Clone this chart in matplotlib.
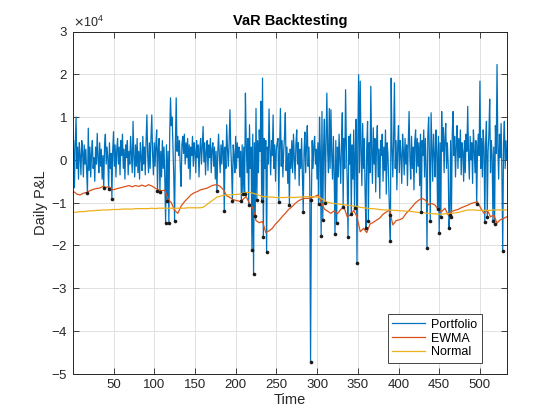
import numpy as np
import matplotlib
matplotlib.use("Agg")
import matplotlib.pyplot as plt
from matplotlib.ticker import ScalarFormatter

plt.rcParams['font.family'] = ['Liberation Sans', 'DejaVu Sans']
plt.rcParams['axes.unicode_minus'] = False

# daily portfolio P&L, in units of 1e4 (days 1..533)
pnl = [
    0.45, -0.65, 0.35, 1.00, -0.20, 0.30, -0.45, 0.40, 0.10, -0.35, 0.45, 0.20, -0.40, 0.35, -0.10, 0.25, -0.30, -0.78, 0.74, -0.25,
    0.30, -0.40, 0.15, 0.45, -0.20, 0.05, -0.50, 0.30, -0.10, 0.62, 0.05, -0.30, 0.40, -0.15, 0.25, -0.45, 0.10, -0.66, 0.35, 0.60,
    -0.10, 0.30, 0.05, -0.69, 0.40, -0.20, 0.15, -0.92, 0.20, 0.66, -0.15, 0.35, -0.40, 0.25, 0.50, -0.10, 0.30, -0.35, 0.45, 0.10,
    0.60, -0.20, 0.25, -0.45, 0.35, 0.05, 0.45, -0.35, 0.20, -0.10, 0.55, 0.15, -0.30, 0.90, 0.10, -0.40, 0.35, -0.15, 0.50, -0.30,
    0.20, -0.45, 0.40, 0.05, -0.25, 0.55, -0.10, 0.30, -0.35, 0.45, 1.05, 0.10, -0.30, 0.40, -0.20, 0.50, 1.05, 0.15, -0.35, 0.40,
    -0.15, 0.35, 0.70, -0.72, 0.30, 0.50, -0.74, 0.20, -0.40, 0.45, -0.20, 0.30, -0.45, -1.48, 0.35, -0.96, 0.20, -1.48, 0.60, 1.45,
    0.80, 1.00, 0.30, -0.40, -1.42, 0.40, 1.45, 0.20, 0.55, 0.10, 0.45, -0.20, -0.62, 0.35, 0.55, 0.15, 0.60, -0.10, 0.40, 0.05,
    0.50, -0.20, 0.35, -0.45, 0.30, 0.10, 0.55, -0.15, 0.40, 0.20, -0.30, 0.45, 0.05, 0.35, -0.40, 0.25, 0.50, -0.10, 0.30, 0.78,
    -0.05, 0.40, -0.35, 0.20, 0.45, -0.25, 0.35, 0.05, 0.50, -0.30, 0.25, 0.40, -0.15, 0.30, -0.45, 0.20, -0.73, 0.15, 0.60, 0.10,
    -0.30, 0.35, -0.10, 0.45, 0.20, -1.20, 0.30, -0.20, 0.82, 0.25, -0.15, 0.40, 1.17, 0.30, -0.20, -0.96, 0.35, 0.10, -0.30, 0.55,
    -0.20, 0.40, 0.05, 0.30, -0.40, 0.20, -0.96, 0.35, -0.80, 0.30, -0.80, 1.56, 0.40, -0.30, 0.50, -1.05, 0.82, -0.20, 0.30, -2.10,
    0.60, -2.67, 0.40, -1.31, 1.20, -0.94, 0.45, -0.30, 0.70, 0.20, 1.37, -0.95, 1.91, -1.81, 0.50, -0.20, 0.45, -2.16, 0.30, -0.10,
    1.19, 0.20, -0.35, 0.45, 0.10, 1.05, -0.20, 0.35, -0.50, 0.25, 0.40, 0.50, -0.99, 0.30, 1.20, -0.15, 0.45, -0.40, 0.20, 0.55,
    1.10, -0.25, 0.30, -0.55, 0.15, -1.05, 0.25, -0.20, 0.45, -0.30, 0.60, 0.05, -0.45, 0.35, 0.70, -0.10, 0.40, -0.60, 0.25, -0.20,
    0.50, -0.40, -1.23, 0.20, 0.65, -0.30, 0.35, 0.80, -0.15, 0.30, -0.50, -4.72, -0.94, 0.45, -0.20, 0.35, 0.55, -0.10, 0.25, -0.45,
    0.40, -1.03, 1.00, 0.20, -1.77, 1.13, -1.40, 0.30, 0.95, -1.00, 0.40, 1.56, 0.20, -0.30, 1.20, -0.20, 1.17, 0.10, -0.45, 0.55,
    -0.30, -1.73, 0.45, -1.48, 0.30, -0.40, 0.60, 0.05, -0.55, 0.40, 1.10, -1.09, 0.50, -0.20, 1.64, 0.30, -0.50, -1.81, 0.55, -0.10,
    0.60, -1.27, 0.35, -0.45, 0.70, -1.13, 0.25, 0.95, -2.42, 0.40, 1.99, -0.30, 1.84, 0.20, -0.60, 0.85, -0.20, 0.50, -0.80, -1.60,
    0.30, 0.90, -1.44, 0.40, -0.30, 1.72, 0.20, -0.55, 0.75, -0.10, 0.50, -0.75, 0.35, 0.80, -0.40, 0.25, -0.90, 0.45, 0.10, 0.60,
    -0.50, 0.30, -0.25, 0.70, -0.80, 0.40, 0.15, -0.60, -1.29, -1.90, 1.91, 0.30, -0.40, 0.50, 1.80, -0.20, 0.45, -0.70, 0.30, 0.80,
    -0.30, 0.45, 0.10, -0.55, 0.60, 0.20, -0.35, 0.50, -0.10, 0.35, -0.60, 0.40, 1.13, 0.05, -0.45, 0.55, -0.20, 0.30, -0.70, 0.45,
    0.70, -0.30, 0.50, -0.15, 0.40, -0.60, 0.60, -1.21, 0.45, 0.10, 0.70, -0.40, 0.50, -0.20, -2.07, 0.55, 1.00, 0.10, -1.42, 1.10,
    0.30, -0.50, 0.60, 0.15, -0.40, 0.70, 0.20, -1.15, 0.55, -1.72, 0.40, -1.34, 1.13, 0.20, 0.75, -0.30, 0.50, 0.85, -0.20, 0.40,
    -0.10, -1.60, -1.28, 0.45, -1.34, 0.60, 1.13, 0.10, 0.55, -0.40, 0.35, 0.80, -0.20, 0.50, 0.05, 0.70, -0.35, 0.40, 0.20, -0.50,
    0.45, -0.30, 0.60, 0.20, 1.25, 0.10, -0.45, 0.55, 0.00, 0.40, -0.55, 0.70, 0.25, -0.30, 0.45, -1.02, 0.20, 0.60, 0.10, 1.84,
    -0.20, 0.50, -0.40, 0.70, 0.30, -1.46, 0.40, 0.90, -1.34, 0.20, 0.60, 1.42, -0.30, 0.45, 0.10, -1.42, 0.30, -1.50, 0.80, 0.15,
    2.23, 0.30, -0.45, 0.60, 0.05, 0.85, -0.30, -2.13, 0.40, 0.90, -0.20, 0.45, 0.00,
]
days = np.arange(1, len(pnl) + 1)

# VaR estimates (negative, units of 1e4), sampled every 4 days
var_days = np.arange(1, 534, 4)
ewma_var = [
    -0.74, -0.80, -0.82, -0.78, -0.76, -0.72, -0.69, -0.67, -0.66, -0.62,
    -0.64, -0.63, -0.70, -0.68, -0.66, -0.64, -0.62, -0.60, -0.63, -0.60,
    -0.62, -0.59, -0.62, -0.58, -0.61, -0.66, -0.70, -0.72, -0.71, -0.92,
    -1.00, -1.18, -1.25, -1.08, -0.98, -0.90, -0.82, -0.77, -0.74, -0.70,
    -0.68, -0.66, -0.62, -0.59, -0.58, -0.62, -0.70, -0.84, -0.88, -0.93,
    -0.95, -0.97, -0.92, -0.86, -1.02, -1.12, -1.42, -1.47, -1.44, -1.70,
    -1.66, -1.60, -1.50, -1.42, -1.33, -1.25, -1.16, -1.10, -1.02, -0.96,
    -0.92, -0.90, -0.90, -0.88, -0.86, -0.82, -0.98, -1.15, -1.20, -1.25,
    -1.19, -1.26, -1.16, -1.10, -1.33, -1.29, -1.18, -1.33, -1.68, -1.60,
    -1.70, -1.50, -1.46, -1.41, -1.36, -1.27, -1.22, -1.17, -1.52, -1.42,
    -1.40, -1.37, -1.26, -1.18, -1.09, -1.00, -0.94, -0.90, -0.94, -1.05,
    -1.02, -1.06, -1.17, -1.21, -1.13, -1.29, -1.21, -1.18, -1.16, -1.12,
    -1.09, -1.06, -1.02, -1.00, -0.98, -1.13, -1.25, -1.17, -1.33, -1.29,
    -1.48, -1.40, -1.37, -1.33,
]
normal_var = [
    -1.23, -1.22, -1.21, -1.21, -1.20, -1.19, -1.19, -1.18, -1.18, -1.17,
    -1.17, -1.17, -1.16, -1.16, -1.16, -1.15, -1.15, -1.15, -1.15, -1.14,
    -1.14, -1.14, -1.14, -1.14, -1.13, -1.14, -1.13, -1.13, -1.13, -1.13,
    -1.13, -1.13, -1.13, -1.13, -1.13, -1.12, -1.12, -1.12, -1.12, -1.12,
    -1.10, -1.04, -0.98, -0.93, -0.87, -0.85, -0.83, -0.82, -0.82, -0.81,
    -0.81, -0.80, -0.78, -0.76, -0.76, -0.78, -0.80, -0.83, -0.86, -0.86,
    -0.87, -0.87, -0.88, -0.88, -0.88, -0.88, -0.87, -0.88, -0.88, -0.87,
    -0.87, -0.86, -0.86, -0.86, -0.86, -0.87, -0.90, -0.96, -0.99, -1.01,
    -1.02, -1.03, -1.04, -1.05, -1.06, -1.07, -1.08, -1.09, -1.11, -1.12,
    -1.13, -1.14, -1.14, -1.15, -1.16, -1.17, -1.17, -1.17, -1.18, -1.18,
    -1.19, -1.19, -1.20, -1.20, -1.21, -1.22, -1.23, -1.23, -1.24, -1.25,
    -1.26, -1.26, -1.27, -1.27, -1.26, -1.26, -1.25, -1.24, -1.23, -1.21,
    -1.19, -1.17, -1.17, -1.17, -1.18, -1.18, -1.18, -1.18, -1.18, -1.17,
    -1.17, -1.17, -1.17, -1.17,
]

# days where the loss went past a VaR estimate
exceed_days = [18, 38, 44, 48, 104, 107, 114, 116, 118, 125, 177, 186, 196,
               207, 209, 211, 216, 220, 222, 224, 226, 232, 234, 238, 253,
               266, 283, 292, 293, 302, 305, 307, 310, 322, 324, 332, 338,
               342, 346, 349, 360, 363, 389, 390, 428, 435, 439, 448, 450,
               452, 462, 463, 465, 496, 506, 509, 516, 518, 528]

portfolio = np.array(pnl) * 1e4
ewma = np.array(ewma_var) * 1e4
normal = np.array(normal_var) * 1e4
exceed = np.array(exceed_days)

fig = plt.figure(figsize=(5.6, 4.2), dpi=100)
ax = fig.add_axes([0.13, 0.11, 0.775, 0.815])

ax.plot(days, portfolio, color='#0072BD', lw=0.9, label='Portfolio')
ax.plot(var_days, ewma, color='#D95319', lw=0.9, label='EWMA')
ax.plot(var_days, normal, color='#EDB120', lw=0.9, label='Normal')
ax.plot(exceed, portfolio[exceed - 1], 'o', color='#1a1a1a', ms=2.6,
        mec='none', label='_nolegend_')

ax.set_xlim(0, 533)
ax.set_ylim(-5e4, 3e4)
ax.set_xticks(range(50, 501, 50))
ax.set_yticks(np.arange(-5e4, 3.1e4, 1e4))

fmt = ScalarFormatter(useMathText=True)
fmt.set_powerlimits((0, 0))
ax.yaxis.set_major_formatter(fmt)
ax.yaxis.get_offset_text().set_fontsize(9)
ax.yaxis.get_offset_text().set_color('#262626')

ax.grid(True, color='#dcdcdc', lw=0.6)
ax.set_axisbelow(True)
for s in ax.spines.values():
    s.set_color('#262626')
    s.set_linewidth(0.7)
ax.tick_params(direction='in', length=4, width=0.6, colors='#262626',
               labelsize=9.5, top=True, right=True)

ax.set_title('VaR Backtesting', fontsize=10.5, fontweight='bold', color='black', pad=5)
ax.set_xlabel('Time', fontsize=10.5, color='#262626', labelpad=2)
ax.set_ylabel('Daily P&L', fontsize=10.5, color='#262626', labelpad=2)

leg = ax.legend(loc='lower right', bbox_to_anchor=(0.942, 0.032), borderaxespad=0,
                fontsize=9, fancybox=False, framealpha=1, edgecolor='#262626',
                handlelength=2.6, borderpad=0.35, labelspacing=0.15, handletextpad=0.5)
leg.get_frame().set_linewidth(0.6)

fig.savefig('out.png', dpi=100, facecolor='white')
